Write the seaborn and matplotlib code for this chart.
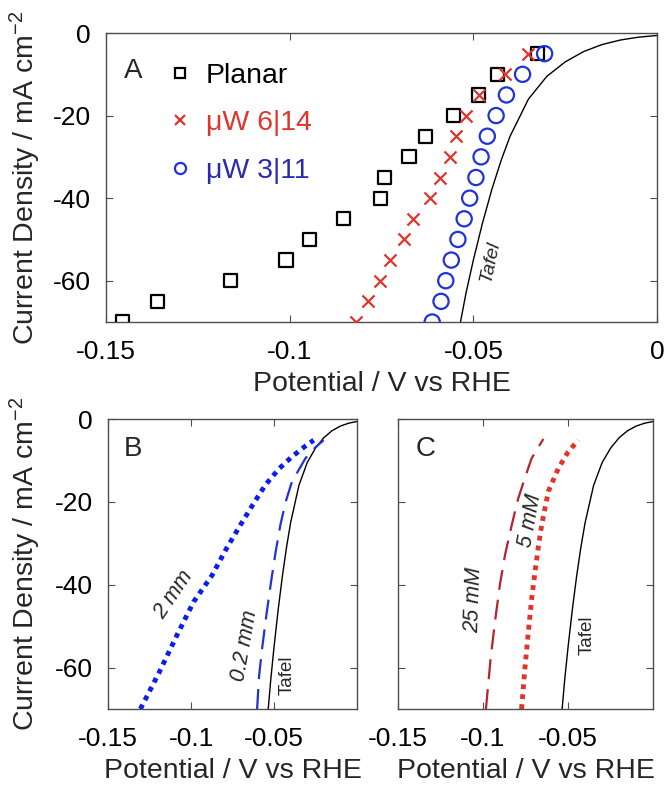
import numpy as np
import pandas as pd
import matplotlib
matplotlib.use("Agg")
import matplotlib.pyplot as plt
import seaborn as sns
from matplotlib.lines import Line2D

# ---- data ----
current = [-70, -65, -60, -55, -50, -45, -40, -35, -30, -25, -20, -15, -10, -5]
planar_v = [-0.1456, -0.1359, -0.1162, -0.1010, -0.0946, -0.0854, -0.0753,
            -0.0742, -0.0675, -0.0631, -0.0554, -0.0487, -0.0435, -0.0325]
uw614_v = [-0.0819, -0.0787, -0.0753, -0.0727, -0.0690, -0.0663, -0.0617,
           -0.0592, -0.0563, -0.0548, -0.0519, -0.0485, -0.0415, -0.0352]
uw311_v = [-0.0612, -0.0588, -0.0575, -0.0560, -0.0542, -0.0525, -0.0510,
           -0.0493, -0.0479, -0.0462, -0.0438, -0.0410, -0.0366, -0.0306]

tafel_v = [0.0, -0.005, -0.010, -0.015, -0.020, -0.025, -0.030, -0.035,
           -0.040, -0.0425, -0.045, -0.0475, -0.050, -0.052, -0.0535]
tafel_j = [-0.6, -1.0, -1.7, -2.8, -4.5, -7.0, -10.5, -16.0,
           -25.0, -31.0, -38.0, -46.0, -55.0, -63.0, -70.0]

mm2_v = [-0.1305, -0.1190, -0.1084, -0.0984, -0.0873, -0.0790, -0.0703,
         -0.0625, -0.0552, -0.0470, -0.0392, -0.0320, -0.0261]
mm2_j = [-70.0, -61.0, -52.1, -44.1, -37.7, -31.5, -25.6,
         -20.5, -15.9, -12.0, -9.1, -6.8, -5.1]
mm02_v = [-0.0602, -0.0590, -0.0572, -0.0545, -0.0518, -0.0490, -0.0462,
          -0.0430, -0.0392, -0.0311, -0.0250, -0.0201]
mm02_j = [-70.0, -62.0, -55.4, -47.0, -39.3, -32.0, -25.6,
          -20.0, -15.1, -9.5, -6.8, -5.1]

mM25_v = [-0.0982, -0.0955, -0.0929, -0.0900, -0.0870, -0.0830, -0.0792,
          -0.0750, -0.0714, -0.0645]
mM25_j = [-70.0, -58.0, -48.9, -40.0, -32.8, -25.5, -19.1,
          -13.8, -9.5, -4.8]
mM5_v = [-0.0773, -0.0753, -0.0733, -0.0714, -0.0694, -0.0675, -0.0655,
         -0.0616, -0.0557, -0.0499, -0.0440]
mM5_j = [-70.0, -60.0, -51.3, -43.5, -36.9, -31.0, -25.6,
         -17.5, -11.9, -7.9, -5.1]

xticks_a = [-0.15, -0.1, -0.05, 0]
xticklabels_a = ["-0.15", "-0.1", "-0.05", "0"]
xticks_bc = [-0.15, -0.1, -0.05]
xticklabels_bc = ["-0.15", "-0.1", "-0.05"]
yticks = [0, -20, -40, -60]
yticklabels = ["0", "-20", "-40", "-60"]

# ---- style ----
sns.set_style("ticks")
plt.rcParams["font.family"] = ["Liberation Sans", "DejaVu Sans"]
plt.rcParams["mathtext.fontset"] = "custom"
plt.rcParams["mathtext.rm"] = "Liberation Sans"
plt.rcParams["mathtext.it"] = "Liberation Sans:italic"

TICK_FS = 19
LABEL_FS = 20.5
NOTE_FS = 15.5
TAFEL_FS = 13.5
AX_COLOR = "#4d4d4d"

BLACK = "black"
RED = "#e0352b"
BLUE = "#1f33d6"
BLUE_TXT = "#2a2ab0"
DARK_RED = "#b8222a"

fig = plt.figure(figsize=(6.66, 7.9), dpi=100)
ax_a = fig.add_axes([0.1592, 0.5924, 0.8273, 0.3658])
ax_b = fig.add_axes([0.1622, 0.1025, 0.3739, 0.3671])
ax_c = fig.add_axes([0.5971, 0.1025, 0.3838, 0.3671])

ylabel = "Current Density / mA cm$^{\\mathregular{-2}}$"
xlabel = "Potential / V vs RHE"


def style_axes(ax, xt, xtl, show_y):
    ax.set_xlim(-0.15, 0)
    ax.set_ylim(-70, 0)
    ax.set_xticks(xt)
    ax.set_xticklabels(xtl)
    ax.set_yticks(yticks)
    if show_y:
        ax.set_yticklabels(yticklabels)
    else:
        ax.set_yticklabels([])
    ax.tick_params(direction="in", top=True, right=True, length=5,
                   width=0.8, colors=AX_COLOR, labelcolor="black",
                   labelsize=TICK_FS)
    ax.tick_params(axis="x", pad=13)
    ax.tick_params(axis="y", pad=11)
    for s in ax.spines.values():
        s.set_visible(True)
        s.set_color(AX_COLOR)
        s.set_linewidth(1.0)
    ax.set_xlabel(xlabel, fontsize=LABEL_FS, labelpad=5)
    ax.set_ylabel(ylabel if show_y else "", fontsize=LABEL_FS)


# ---- panel A ----
tafel_df = pd.DataFrame({"v": tafel_v, "j": tafel_j})
sns.lineplot(data=tafel_df, x="v", y="j", sort=False, estimator=None,
             color=BLACK, linewidth=1.0, ax=ax_a)
sns.scatterplot(x=planar_v, y=current, marker="s", s=90, facecolor="none",
                edgecolor=BLACK, linewidth=1.6, ax=ax_a, zorder=3)
sns.scatterplot(x=uw614_v, y=current, marker="x", s=75, color=RED,
                linewidth=1.6, ax=ax_a, zorder=3)
sns.scatterplot(x=uw311_v, y=current, marker="o", s=120, facecolor="none",
                edgecolor=BLUE, linewidth=1.6, ax=ax_a, zorder=3)
style_axes(ax_a, xticks_a, xticklabels_a, True)
ax_a.text(0.05, 0.87, "A", transform=ax_a.transAxes, fontsize=20,
          ha="center", va="center")
ax_a.text(-0.0454, -55.4, "Tafel", fontsize=TAFEL_FS + 0.5, style="italic",
          rotation=78, ha="center", va="center")

handles = [
    Line2D([], [], linestyle="", marker="s", markersize=7.5,
           markerfacecolor="none", markeredgecolor=BLACK, markeredgewidth=1.6),
    Line2D([], [], linestyle="", marker="x", markersize=7.5,
           color=RED, markeredgewidth=1.6),
    Line2D([], [], linestyle="", marker="o", markersize=8,
           markerfacecolor="none", markeredgecolor=BLUE, markeredgewidth=1.6),
]
ax_a.legend(handles, ["Planar", "μW 6|14", "μW 3|11"], loc="upper left",
            bbox_to_anchor=(0.117, 0.895), frameon=False, fontsize=LABEL_FS,
            labelcolor=[BLACK, RED, BLUE_TXT], handlelength=0.7,
            handletextpad=0.55, labelspacing=0.74, borderpad=0,
            borderaxespad=0)

# ---- panel B ----
sns.lineplot(data=tafel_df, x="v", y="j", sort=False, estimator=None,
             color=BLACK, linewidth=1.0, ax=ax_b)
sns.lineplot(x=mm2_v, y=mm2_j, sort=False, estimator=None, color="#0a1ef0",
             linewidth=3.5, linestyle=(0, (1, 1.05)), ax=ax_b)
sns.lineplot(x=mm02_v, y=mm02_j, sort=False, estimator=None, color=BLUE,
             linewidth=1.6, linestyle=(0, (9, 4.5)), ax=ax_b)
style_axes(ax_b, xticks_bc, xticklabels_bc, True)
ax_b.text(0.1, 0.895, "B", transform=ax_b.transAxes, fontsize=20,
          ha="center", va="center")
ax_b.text(-0.1107, -42.5, "2 mm", fontsize=NOTE_FS, style="italic",
          rotation=56, ha="center", va="center")
ax_b.text(-0.0675, -54.6, "0.2 mm", fontsize=NOTE_FS, style="italic",
          rotation=80, ha="center", va="center")
ax_b.text(-0.0423, -61.8, "Tafel", fontsize=TAFEL_FS, rotation=90,
          ha="center", va="center")

# ---- panel C ----
sns.lineplot(data=tafel_df, x="v", y="j", sort=False, estimator=None,
             color=BLACK, linewidth=1.0, ax=ax_c)
sns.lineplot(x=mM25_v, y=mM25_j, sort=False, estimator=None, color=DARK_RED,
             linewidth=1.6, linestyle=(0, (9, 4.5)), ax=ax_c)
sns.lineplot(x=mM5_v, y=mM5_j, sort=False, estimator=None, color=RED,
             linewidth=3.5, linestyle=(0, (1, 1.05)), ax=ax_c)
style_axes(ax_c, xticks_bc, xticklabels_bc, False)
ax_c.text(0.11, 0.895, "C", transform=ax_c.transAxes, fontsize=20,
          ha="center", va="center")
ax_c.text(-0.1056, -43.7, "25 mM", fontsize=NOTE_FS, style="italic",
          rotation=88, ha="center", va="center")
ax_c.text(-0.0724, -24.4, "5 mM", fontsize=NOTE_FS, style="italic",
          rotation=80, ha="center", va="center")
ax_c.text(-0.0391, -52.1, "Tafel", fontsize=TAFEL_FS, rotation=90,
          ha="center", va="center")

ax_a.yaxis.set_label_coords(-0.114, 0.5)
ax_b.yaxis.set_label_coords(-0.261, 0.5)

fig.savefig("out.png", dpi=100)
